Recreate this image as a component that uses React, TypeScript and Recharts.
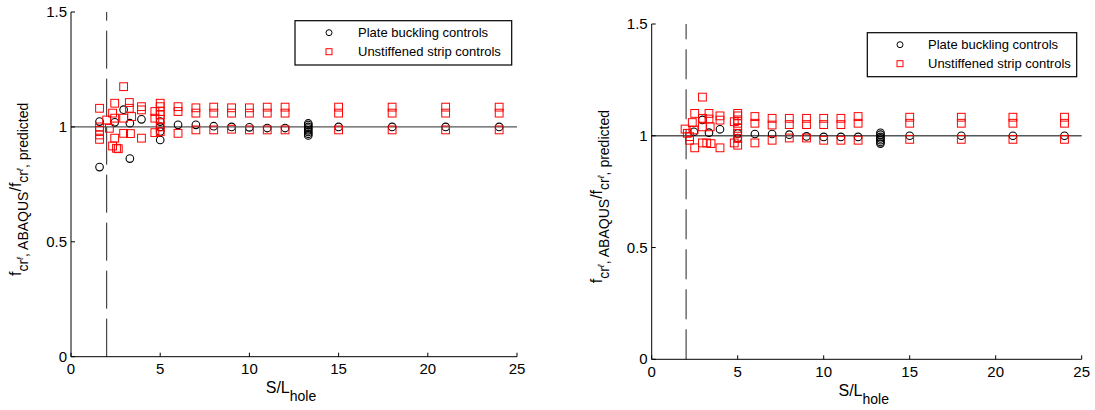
import React from "react";
import { ReferenceLine, Scatter, ScatterChart, XAxis, YAxis } from "recharts";

type Pt = [number, number];

const FONT = '"Liberation Sans", Arial, sans-serif';

const xTicks = [0, 5, 10, 15, 20, 25];
const yTicks = [0, 0.5, 1, 1.5];
const legendLabels = ["Plate buckling controls", "Unstiffened strip controls"];
const holeLimit = 2; // dashed line at S/L = 2
const unity = 1;

// left panel: plate buckling controls (circles)
const plateLeft: Pt[] = [
  [1.6, 0.825], [1.6, 1.023], [2.45, 1.02], [2.95, 1.075], [3.3, 1.016], [3.3, 0.862], [3.95, 1.033],
  [5, 1.023], [5, 1.0], [5, 0.98], [5, 0.943],
  [6, 1.009], [7, 1.009], [8, 1.003], [9, 1.0], [10, 0.998], [11, 0.995], [12, 0.995],
  [13.3, 1.015], [13.3, 1.008], [13.3, 1.0], [13.3, 0.993], [13.3, 0.985], [13.3, 0.978],
  [13.3, 0.97], [13.3, 0.963],
  [15, 1.0], [18, 1.0], [21, 1.0], [24, 1.0],
];

// left panel: unstiffened strip controls (squares)
const stripLeft: Pt[] = [
  [1.6, 1.081], [1.6, 1.0], [1.6, 0.985], [1.6, 0.965], [1.6, 0.946],
  [2.0, 1.03], [2.15, 0.994], [2.33, 1.06], [2.45, 1.103], [2.45, 1.038], [2.45, 0.951],
  [2.33, 0.917], [2.55, 0.907], [2.65, 0.905], [2.95, 1.175], [2.95, 1.038], [2.95, 0.972],
  [3.27, 1.106], [3.27, 1.081], [3.4, 1.045], [3.33, 0.971], [3.95, 1.088], [3.95, 1.074],
  [3.95, 0.951], [4.7, 1.067], [4.7, 1.038], [4.7, 0.975],
  [5, 1.103], [5, 1.088], [5, 1.067], [5, 1.052], [5, 1.033], [5, 1.0], [5, 0.979],
  [6, 1.088], [6, 1.067], [6, 0.972],
  [7, 1.083], [7, 1.06], [7, 0.987], [8, 1.086], [8, 1.06], [8, 0.987],
  [9, 1.083], [9, 1.06], [9, 0.99], [10, 1.083], [10, 1.06], [10, 0.987],
  [11, 1.086], [11, 1.06], [11, 0.987], [12, 1.086], [12, 1.06], [12, 0.987],
  [15, 1.086], [15, 1.06], [15, 0.987], [18, 1.086], [18, 1.06], [18, 0.987],
  [21, 1.086], [21, 1.06], [21, 0.987], [24, 1.086], [24, 1.06], [24, 0.987],
];

// right panel: plate buckling controls (circles)
const plateRight: Pt[] = [
  [2.45, 1.018], [2.95, 1.071], [3.33, 1.014], [3.97, 1.029], [5, 1.01], [5, 0.99],
  [6, 1.008], [7, 1.008], [8, 1.005], [9, 0.997], [10, 0.995], [11, 0.995], [12, 0.995],
  [13.3, 1.013], [13.3, 1.005], [13.3, 0.995], [13.3, 0.988], [13.3, 0.98], [13.3, 0.972],
  [13.3, 0.965],
  [15, 1.0], [18, 1.0], [21, 1.0], [24, 1.0],
];

// right panel: unstiffened strip controls (squares)
const stripRight: Pt[] = [
  [1.94, 1.03], [2.07, 1.011], [2.2, 0.996], [2.2, 0.98], [2.36, 1.059], [2.46, 1.026],
  [2.5, 1.1], [2.5, 0.946], [2.95, 1.173], [2.95, 1.078], [2.95, 1.04], [2.95, 0.968],
  [3.33, 1.1], [3.33, 1.075], [3.4, 1.04], [3.2, 0.968], [3.45, 0.965], [3.97, 1.089],
  [3.97, 1.07], [3.97, 0.946], [4.8, 1.063], [4.8, 0.968],
  [5, 1.1], [5, 1.089], [5, 1.071], [5, 1.056], [5, 1.033], [5, 1.011], [5, 0.988], [5, 0.958],
  [6, 1.086], [6, 1.056], [6, 0.968], [7, 1.078], [7, 1.048], [7, 0.98],
  [8, 1.078], [8, 1.05], [8, 0.99], [9, 1.078], [9, 1.05], [9, 0.99],
  [10, 1.078], [10, 1.05], [10, 0.98], [11, 1.078], [11, 1.05], [11, 0.98],
  [12, 1.086], [12, 1.056], [12, 0.98],
  [15, 1.083], [15, 1.056], [15, 0.984], [18, 1.083], [18, 1.056], [18, 0.984],
  [21, 1.083], [21, 1.056], [21, 0.984], [24, 1.083], [24, 1.056], [24, 0.984],
];

const toRows = (pts: Pt[]) => pts.map(([x, y]) => ({ x, y }));

const CircleMark = (p: any) => (
  <circle cx={p.cx} cy={p.cy} r={3.8} fill="none" stroke="#000" strokeWidth={1.1} />
);

const SquareMark = (p: any) => (
  <rect x={p.cx - 3.9} y={p.cy - 3.9} width={7.8} height={7.8} fill="none" stroke="#f00" strokeWidth={1} />
);

const XTick = ({ x, y, payload }: any) => (
  <g>
    <line x1={x} x2={x} y1={y} y2={y - 4} stroke="#000" />
    <text x={x} y={y + 17.5} textAnchor="middle" fontSize={15} fontFamily={FONT} fill="#000">
      {payload.value}
    </text>
  </g>
);

const YTick = ({ x, y, payload }: any) => (
  <g>
    <line x1={x} x2={x + 4} y1={y} y2={y} stroke="#000" />
    <text x={x - 4} y={y + 5} textAnchor="end" fontSize={15} fontFamily={FONT} fill="#000">
      {payload.value}
    </text>
  </g>
);

interface PanelProps {
  left: number;
  width: number;
  plot: { l: number; r: number; t: number; b: number };
  legend: { x: number; y: number; w: number; h: number; mx: number; tx: number };
  plate: Pt[];
  strip: Pt[];
  dash: string;
}

function Panel({ left, width, plot, legend, plate, strip, dash }: PanelProps) {
  const axisW = 30;
  const axisH = 30;
  const margin = {
    top: plot.t,
    bottom: 410 - plot.b - axisH,
    left: plot.l - left - axisW,
    right: left + width - plot.r,
  };
  const midY = (plot.t + plot.b) / 2 + 5;
  const labX = plot.l - 50;
  const midX = (plot.l + plot.r) / 2 - 3;
  return (
    <>
      <div style={{ position: "absolute", left, top: 0 }}>
        <ScatterChart width={width} height={410} margin={margin}>
          <XAxis
            type="number"
            dataKey="x"
            domain={[0, 25]}
            ticks={xTicks}
            height={axisH}
            axisLine={{ stroke: "#000" }}
            tickLine={false}
            tickSize={0}
            tickMargin={0}
            tick={XTick}
          />
          <YAxis
            type="number"
            dataKey="y"
            domain={[0, 1.5]}
            ticks={yTicks}
            width={axisW}
            axisLine={{ stroke: "#000" }}
            tickLine={false}
            tickSize={0}
            tickMargin={0}
            tick={YTick}
          />
          <ReferenceLine x={holeLimit} stroke="#222" strokeWidth={1} strokeDasharray={dash} />
          <ReferenceLine y={unity} stroke="#555" strokeWidth={1.4} />
          <Scatter data={toRows(plate)} shape={CircleMark} isAnimationActive={false} />
          <Scatter data={toRows(strip)} shape={SquareMark} isAnimationActive={false} />
        </ScatterChart>
      </div>
      <svg
        width={1095}
        height={410}
        style={{ position: "absolute", left: 0, top: 0, pointerEvents: "none" }}
        fontFamily={FONT}
      >
        <text
          transform={`translate(${labX},${midY}) rotate(-90)`}
          textAnchor="middle"
          fill="#000"
        >
          <tspan fontSize={16}>f</tspan>
          <tspan fontSize={14} dy={7}>cr</tspan>
          <tspan fontSize={9} fontStyle="italic" dy={-5}>ℓ</tspan>
          <tspan fontSize={14} dy={5}>, ABAQUS</tspan>
          <tspan fontSize={16} dy={-7}>/f</tspan>
          <tspan fontSize={14} dy={7}>cr</tspan>
          <tspan fontSize={9} fontStyle="italic" dy={-5}>ℓ</tspan>
          <tspan fontSize={14} dy={5}>, predicted</tspan>
        </text>
        <text x={midX} y={plot.b + 36.5} textAnchor="middle" fill="#000">
          <tspan fontSize={16}>S/L</tspan>
          <tspan fontSize={14} dy={8}>hole</tspan>
        </text>
        <g transform={`translate(${legend.x},${legend.y})`}>
          <rect x={0} y={0} width={legend.w} height={legend.h} fill="#fff" stroke="#000" strokeWidth={1.2} />
          <circle cx={legend.mx} cy={12} r={3} fill="none" stroke="#000" />
          <rect x={legend.mx - 3} y={28} width={6} height={6} fill="none" stroke="#f00" />
          <text x={legend.tx} y={16} fontSize={13} fill="#000">{legendLabels[0]}</text>
          <text x={legend.tx} y={35.5} fontSize={13} fill="#000">{legendLabels[1]}</text>
        </g>
      </svg>
    </>
  );
}

export default function App() {
  return (
    <div style={{ position: "absolute", left: 0, top: 0, width: 1095, height: 410, background: "#fff" }}>
      <Panel
        left={0}
        width={545}
        plot={{ l: 71, r: 517, t: 12, b: 356.7 }}
        legend={{ x: 295, y: 20.7, w: 216.7, h: 44.3, mx: 34, tx: 63 }}
        plate={plateLeft}
        strip={stripLeft}
        dash="38 10"
      />
      <Panel
        left={560}
        width={535}
        plot={{ l: 651.7, r: 1081.7, t: 24, b: 359.3 }}
        legend={{ x: 867.3, y: 32.7, w: 209.4, h: 44, mx: 32.7, tx: 60.7 }}
        plate={plateRight}
        strip={stripRight}
        dash="30 10"
      />
    </div>
  );
}
